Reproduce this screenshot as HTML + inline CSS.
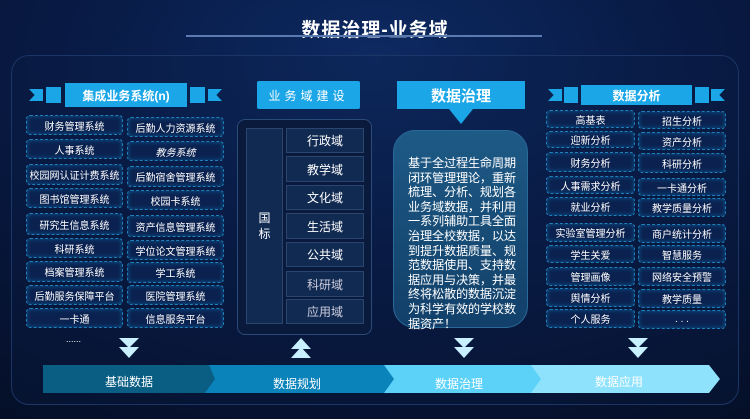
<!DOCTYPE html>
<html><head><meta charset="utf-8"><style>
*{margin:0;padding:0;box-sizing:border-box}
body{width:750px;height:419px;overflow:hidden;background:radial-gradient(ellipse 700px 420px at 375px 60px,#0d2a62 0%,#081a44 45%,#050f28 100%);font-family:"Liberation Sans","Noto Sans CJK SC",sans-serif;color:#fff;position:relative}
.a{position:absolute}
.title{left:0;width:750px;top:15px;text-align:center;font-size:19px;font-weight:bold;letter-spacing:1px}
.tline{left:186px;width:356px;top:35px;height:2px;background:#5a7ab0}
.panel{left:11px;top:55px;width:728px;height:350px;border:1.5px solid #1b3566;border-radius:18px;background:rgba(10,30,70,0.25)}
.box{position:absolute;border:1.5px dashed #1f7fb8;border-radius:4px;background:#0b2250;font-size:10px;display:flex;align-items:center;justify-content:center;white-space:nowrap;box-shadow:0 0 4px #0d5a90 inset}
.hdr{background:#1ba6e8;color:#fff;display:flex;align-items:center;justify-content:center}
.dom{position:absolute;left:286px;width:78px;background:#112a52;border:1px solid #2a4570;font-size:12px;display:flex;align-items:center;justify-content:center}
.arr{position:absolute;width:0;height:0}
</style></head><body>
<div class="a title">数据治理-业务域</div>
<div class="a tline"></div>
<div class="a panel"></div>

<!-- left banner -->
<div class="a hdr" style="left:29px;top:89px;width:14px;height:12px;clip-path:polygon(0 0,100% 0,100% 100%,0 100%,40% 50%)"></div>
<div class="a hdr" style="left:46px;top:87px;width:15px;height:16px"></div>
<div class="a hdr" style="left:65px;top:83px;width:122px;height:24px;font-size:12px;font-weight:bold">集成业务系统(n)</div>
<div class="a hdr" style="left:190px;top:87px;width:15px;height:16px"></div>
<div class="a hdr" style="left:208px;top:89px;width:14px;height:12px;clip-path:polygon(0 0,100% 0,60% 50%,100% 100%,0 100%)"></div>

<div class="box" style="left:26px;top:115px;width:97px;height:20px">财务管理系统</div>
<div class="box" style="left:127px;top:117px;width:97px;height:20px">后勤人力资源系统</div>
<div class="box" style="left:26px;top:139px;width:97px;height:20px">人事系统</div>
<div class="box" style="left:127px;top:141px;width:97px;height:20px;font-style:italic">教务系统</div>
<div class="box" style="left:26px;top:164px;width:97px;height:21px">校园网认证计费系统</div>
<div class="box" style="left:127px;top:166px;width:97px;height:21px">后勤宿舍管理系统</div>
<div class="box" style="left:26px;top:188px;width:97px;height:20px">图书馆管理系统</div>
<div class="box" style="left:127px;top:190px;width:97px;height:20px">校园卡系统</div>
<div class="box" style="left:26px;top:213px;width:97px;height:22px">研究生信息系统</div>
<div class="box" style="left:127px;top:215px;width:97px;height:22px">资产信息管理系统</div>
<div class="box" style="left:26px;top:238px;width:97px;height:20px">科研系统</div>
<div class="box" style="left:127px;top:240px;width:97px;height:20px">学位论文管理系统</div>
<div class="box" style="left:26px;top:261px;width:97px;height:21px">档案管理系统</div>
<div class="box" style="left:127px;top:262px;width:97px;height:21px">学工系统</div>
<div class="box" style="left:26px;top:285px;width:97px;height:20px">后勤服务保障平台</div>
<div class="box" style="left:127px;top:285px;width:97px;height:20px">医院管理系统</div>
<div class="box" style="left:26px;top:308px;width:97px;height:20px">一卡通</div>
<div class="box" style="left:127px;top:308px;width:97px;height:20px">信息服务平台</div>
<div class="a" style="left:66px;top:334px;font-size:9px">......</div>

<!-- middle -->
<div class="a hdr" style="left:257px;top:81px;width:103px;height:28px;font-size:12px;letter-spacing:4px;border-radius:2px">业务域建设</div>
<div class="a" style="left:237px;top:119px;width:135px;height:216px;border:1.5px solid #2a4a7a;border-radius:8px;background:#0a1a3c"></div>
<div class="a" style="left:246px;top:128px;width:37px;height:196px;background:#112a52;border:1px solid #2a4570;font-size:12px;display:flex;align-items:center;justify-content:center;text-align:center;line-height:16px">国<br>标</div>
<div class="dom" style="top:128px;height:25px">行政域</div>
<div class="dom" style="top:156px;height:26px">教学域</div>
<div class="dom" style="top:185px;height:25px">文化域</div>
<div class="dom" style="top:213px;height:26px">生活域</div>
<div class="dom" style="top:242px;height:25px">公共域</div>
<div class="dom" style="top:271px;height:26px;color:#ccd">科研域</div>
<div class="dom" style="top:299px;height:25px;color:#ccd">应用域</div>

<!-- governance -->
<div class="a hdr" style="left:397px;top:81px;width:128px;height:28px;font-size:15px;font-weight:bold">数据治理</div>
<div class="a" style="left:449px;top:109px;width:24px;height:15px;background:#1ba6e8;clip-path:polygon(0 0,100% 0,50% 100%)"></div>
<div class="a" style="left:393px;top:130px;width:135px;height:198px;border-radius:22px;background:linear-gradient(180deg,#1e5a86 0%,#164a74 60%,#12406a 100%);border:1.5px solid #2a6a98;padding:25px 8px 0 14px;font-size:12.2px;line-height:14.6px;letter-spacing:-0.2px">基于全过程生命周期闭环管理理论，重新梳理、分析、规划各业务域数据，并利用一系列辅助工具全面治理全校数据，以达到提升数据质量、规范数据使用、支持数据应用与决策，并最终将松散的数据沉淀为科学有效的学校数据资产！</div>

<!-- right banner -->
<div class="a hdr" style="left:548px;top:89px;width:14px;height:12px;clip-path:polygon(0 0,100% 0,100% 100%,0 100%,40% 50%)"></div>
<div class="a hdr" style="left:564px;top:87px;width:14px;height:16px"></div>
<div class="a hdr" style="left:581px;top:85px;width:111px;height:20px;font-size:12px;font-weight:bold">数据分析</div>
<div class="a hdr" style="left:695px;top:87px;width:14px;height:16px"></div>
<div class="a hdr" style="left:711px;top:89px;width:14px;height:12px;clip-path:polygon(0 0,100% 0,60% 50%,100% 100%,0 100%)"></div>

<div class="box" style="left:546px;top:110px;width:89px;height:18px">高基表</div>
<div class="box" style="left:638px;top:111px;width:88px;height:18px">招生分析</div>
<div class="box" style="left:546px;top:131px;width:89px;height:17px">迎新分析</div>
<div class="box" style="left:638px;top:132px;width:88px;height:18px">资产分析</div>
<div class="box" style="left:546px;top:152px;width:89px;height:20px">财务分析</div>
<div class="box" style="left:638px;top:153px;width:88px;height:20px">科研分析</div>
<div class="box" style="left:546px;top:176px;width:89px;height:18px">人事需求分析</div>
<div class="box" style="left:638px;top:178px;width:88px;height:18px">一卡通分析</div>
<div class="box" style="left:546px;top:197px;width:89px;height:19px">就业分析</div>
<div class="box" style="left:638px;top:198px;width:88px;height:19px">教学质量分析</div>
<div class="box" style="left:546px;top:223px;width:89px;height:19px">实验室管理分析</div>
<div class="box" style="left:638px;top:224px;width:88px;height:19px">商户统计分析</div>
<div class="box" style="left:546px;top:245px;width:89px;height:18px">学生关爱</div>
<div class="box" style="left:638px;top:245px;width:88px;height:18px">智慧服务</div>
<div class="box" style="left:546px;top:267px;width:89px;height:19px">管理画像</div>
<div class="box" style="left:638px;top:267px;width:88px;height:19px">网络安全预警</div>
<div class="box" style="left:546px;top:288px;width:89px;height:19px">舆情分析</div>
<div class="box" style="left:638px;top:289px;width:88px;height:19px">教学质量</div>
<div class="box" style="left:546px;top:309px;width:89px;height:19px">个人服务</div>
<div class="box" style="left:638px;top:310px;width:88px;height:19px">. . .</div>

<!-- arrows -->
<svg class="a" style="left:0;top:0" width="750" height="419">
<g fill="#c8f0ff">
<polygon points="119,338 139,338 129,348"/><polygon points="119,347 139,347 129,358"/>
<polygon points="291,349 301,338 311,349"/><polygon points="291,358 301,347 311,358"/>
<polygon points="454,338 474,338 464,348"/><polygon points="454,347 474,347 464,358"/>
<polygon points="628,338 648,338 638,348"/><polygon points="628,347 648,347 638,358"/>
</g>
<polygon points="43,365 211,365 222,379 211,393 43,393" fill="#0a5e84"/>
<polygon points="209,365 386,365 397,379 386,393 205,393 215,379" fill="#0a82ba"/>
<polygon points="384,365 533,365 544,379 533,393 384,393 394,379" fill="#5dd2f8"/>
<polygon points="531,365 709,365 720,379 709,393 531,393 541,379" fill="#8fe2fb"/>
<g font-family="Liberation Sans,Noto Sans CJK SC,sans-serif" font-size="12" fill="#fff" text-anchor="middle">
<text x="129" y="386">基础数据</text>
<text x="297" y="388">数据规划</text>
<text x="459" y="388">数据治理</text>
<text x="619" y="386">数据应用</text>
</g>
</svg>
</body></html>
